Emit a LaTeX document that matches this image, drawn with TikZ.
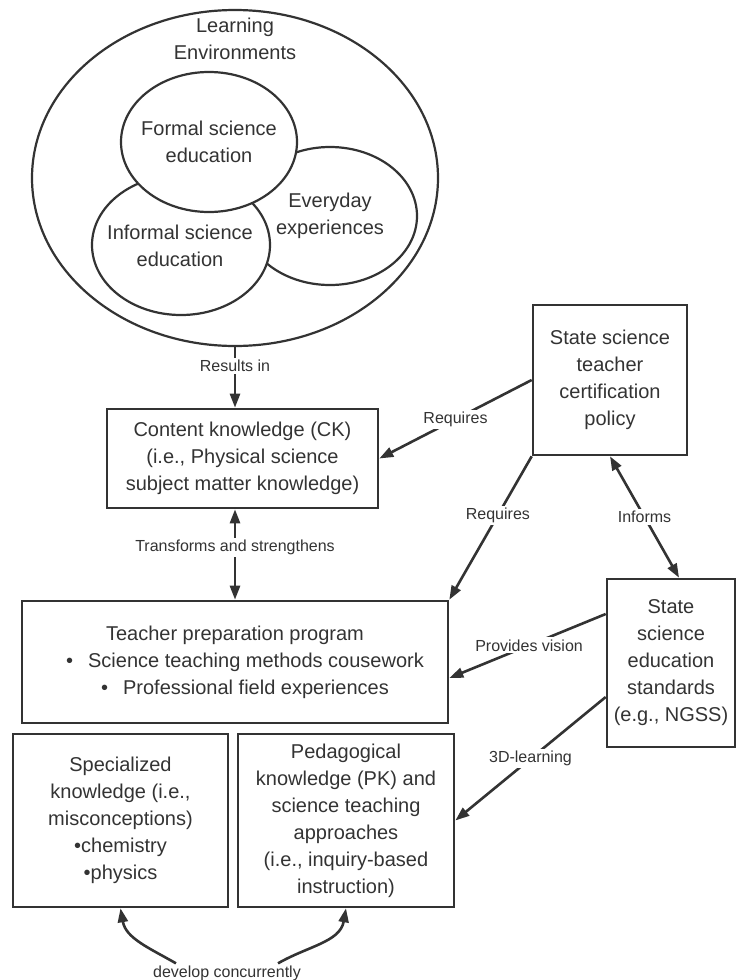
\documentclass[tikz,border=0pt]{standalone}
\usepackage{fontspec}
\setmainfont{Liberation Sans}
\usetikzlibrary{arrows.meta}
\definecolor{ink}{HTML}{333333}

\begin{document}
\begin{tikzpicture}[x=1pt,y=-1pt,
  every node/.style={text=ink},
  box/.style={draw=ink,line width=2.6pt,rectangle,align=center,inner sep=0pt,font=\fontsize{20}{27}\selectfont},
  oval/.style={draw=ink,line width=2.2pt,fill=white},
  big/.style={align=center,font=\fontsize{20}{27}\selectfont},
  lbl/.style={fill=white,inner sep=2pt,font=\fontsize{16}{18}\selectfont},
  link/.style={draw=ink,line width=2.6pt,-{Triangle[length=14pt,width=10pt]}},
  both/.style={link,{Triangle[length=14pt,width=10pt]}-{Triangle[length=14pt,width=10pt]}}]
\useasboundingbox (0,0) rectangle (736,980);

% learning environments
\draw[oval] (235,178) ellipse [x radius=203pt, y radius=168pt];
\node[big] (learn) at (235,39) {Learning\\Environments};
\draw[oval] (330,216) ellipse [x radius=87pt, y radius=69pt];
\draw[oval] (181,245) ellipse [x radius=89pt, y radius=70pt];
\draw[oval] (209,142) ellipse [x radius=88pt, y radius=70pt];
\node[big] (formal) at (209,142) {Formal science\\education};
\node[big] (informal) at (180,246) {Informal science\\education};
\node[big] (everyday) at (330,216) {Everyday\\experiences};
\coordinate (env) at (235,346);

% boxes
\node[box,minimum width=271pt,minimum height=99pt] (ck) at (242.5,458.5)
  {Content knowledge (CK)\\(i.e., Physical science\\subject matter knowledge)};
\node[box,minimum width=154pt,minimum height=150pt] (cert) at (610,380)
  {State science\\teacher\\certification\\policy};
\node[box,minimum width=426pt,minimum height=122pt] (tpp) at (235,662)
  {Teacher preparation program\\
   \hspace*{20pt}\textbullet\hspace*{15pt}Science teaching methods cousework\\
   \hspace*{20pt}\textbullet\hspace*{15pt}Professional field experiences};
\node[box,minimum width=128pt,minimum height=168pt] (std) at (671,663)
  {State\\science\\education\\standards\\(e.g., NGSS)};
\node[box,minimum width=215pt,minimum height=173pt] (spec) at (120.5,820.5)
  {Specialized\\knowledge (i.e.,\\misconceptions)\\\textbullet{}chemistry\\\textbullet{}physics};
\node[box,minimum width=216pt,minimum height=173pt] (ped) at (346,820.5)
  {Pedagogical\\knowledge (PK) and\\science teaching\\approaches\\(i.e., inquiry-based\\instruction)};

% connectors
\draw[link] (env) -- (env |- ck.north) node[lbl,pos=0.32] (resin) {Results in};
\draw[link] (cert.west) -- (ck.east) node[lbl,pos=0.5] (req1) {Requires};
\draw[link] (cert.south west) -- (tpp.north east) node[lbl,pos=0.41] (req2) {Requires};
\draw[both] (cert.south) -- ([xshift=8pt]std.north) node[lbl,pos=0.5] (inf) {Informs};
\draw[both] (tpp.north |- ck.south) -- (tpp.north) node[lbl,pos=0.42] (trans) {Transforms and strengthens};
\draw[link] ([yshift=49pt]std.west) -- ([yshift=-16pt]tpp.east) node[lbl,pos=0.49] (vision) {Provides vision};
\draw[link] ([yshift=-34pt]std.west) -- (ped.east) node[lbl,pos=0.5] (threed) {3D-learning};

\node[lbl] (dev) at (227,973) {develop concurrently};
\draw[link] ([xshift=25pt]dev.north west) to[out=150,in=-80] (spec.south);
\draw[link] ([xshift=-25pt]dev.north east) to[out=30,in=-100] (ped.south);
\end{tikzpicture}
\end{document}
